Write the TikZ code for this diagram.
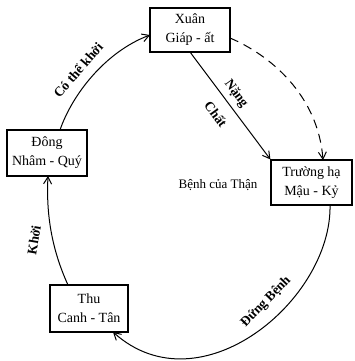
\documentclass[tikz,border=0pt]{standalone}
\usepackage{fontspec}
\setmainfont{Liberation Serif}
\usetikzlibrary{arrows.meta}
\begin{document}
\begin{tikzpicture}[x=1pt,y=-1pt,
  season/.style={draw,line width=1.2pt,inner sep=0pt,align=center,font=\fontsize{14}{19}\selectfont},
  conn/.style={line width=1pt,-{Straight Barb[length=7pt,width=8pt]}},
  lbl/.style={font=\fontsize{13.5}{15}\selectfont\bfseries,inner sep=0pt}]
\useasboundingbox (0,0) rectangle (355,361);
\node[season,minimum width=80pt,minimum height=44pt] (xuan) at (190,30) {Xuân\\Giáp - ất};
\node[season,minimum width=81pt,minimum height=45pt] (ha) at (311.5,182.5) {Trường hạ\\Mậu - Kỷ};
\node[season,minimum width=80pt,minimum height=46pt] (dong) at (47,153) {Đông\\Nhâm - Quý};
\node[season,minimum width=78pt,minimum height=47pt] (thu) at (89,308.5) {Thu\\Canh - Tân};
\node[font=\fontsize{13}{16}\selectfont] (benh) at (218,185) {Bệnh của Thận};
\coordinate (xb) at (190,52);
\coordinate (xr) at (230,38);
\coordinate (xl) at (150,35);
\coordinate (ht) at (323,160);
\coordinate (hb) at (330,205);
\coordinate (dt) at (60,130);
\coordinate (db) at (48,176);
\coordinate (tt) at (68,285);
\coordinate (tr) at (113,332);
\draw[conn] (xb) -- (ha.north west);
\draw[conn,dashed,dash pattern=on 9pt off 6pt] (xr) .. controls (270,55) and (318,95) .. (ht);
\draw[conn] (hb) .. controls (332,300) and (200,410) .. (tr);
\draw[conn] (tt) .. controls (52,250) and (46,215) .. (db);
\draw[conn] (dt) .. controls (72,95) and (105,52) .. (xl);
\node[lbl,rotate=-54] (nang) at (236,94) {Nặng};
\node[lbl,rotate=-54] (chat) at (216,114) {Chất};
\node[lbl,rotate=49] (cothe) at (78,70) {Có thể khởi};
\node[lbl,rotate=80] (khoi) at (34,240) {Khởi};
\node[lbl,rotate=46] (dung) at (266,302) {Đứng Bệnh};
\end{tikzpicture}
\end{document}
